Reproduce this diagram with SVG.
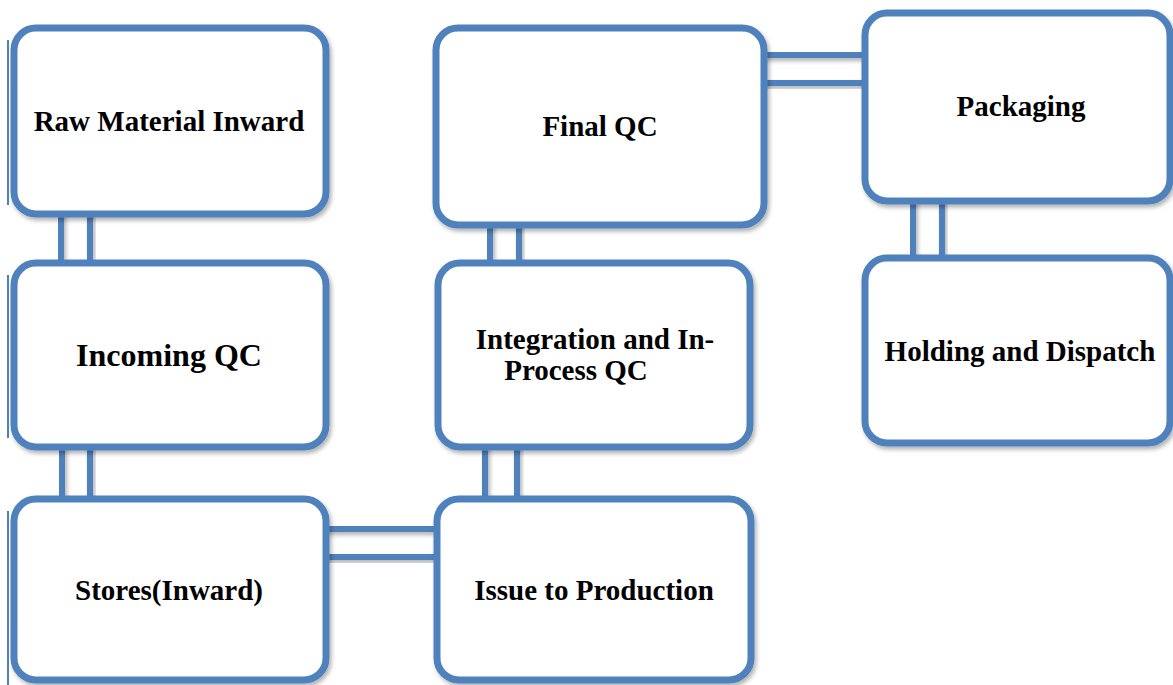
<svg xmlns="http://www.w3.org/2000/svg" width="1173" height="685" viewBox="0 0 1173 685">
  <defs>
    <filter id="shadow" x="-10%" y="-10%" width="130%" height="130%">
      <feDropShadow dx="2" dy="3" stdDeviation="2" flood-color="#000" flood-opacity="0.3"/>
    </filter>
  </defs>
  <style>
    .box { fill: #ffffff; stroke: #4F81BD; stroke-width: 7; filter: url(#shadow); }
    .pipe { fill: none; stroke: #4F81BD; stroke-width: 6; filter: url(#shadow); }
    .edge { stroke: #4F81BD; stroke-width: 2; }
    .label { font-family: "Liberation Serif", "Times New Roman", serif; font-weight: bold; font-size: 29px; fill: #000; text-anchor: middle; }
  </style>
  <rect width="1173" height="685" fill="#ffffff"/>

  <!-- connectors: double-line pipes between steps -->
  <g id="connectors">
    <rect class="pipe" x="61" y="205" width="29" height="65"/>
    <rect class="pipe" x="62" y="440" width="28" height="65"/>
    <rect class="pipe" x="320" y="529" width="125" height="28"/>
    <rect class="pipe" x="485" y="440" width="32" height="65"/>
    <rect class="pipe" x="490" y="218" width="29" height="52"/>
    <rect class="pipe" x="758" y="55" width="112" height="28"/>
    <rect class="pipe" x="913" y="195" width="29" height="64" rx="3"/>
  </g>

  <g id="raw-material-inward">
    <line class="edge" x1="8" y1="40" x2="8" y2="205"/>
    <rect class="box" x="14" y="28" width="312" height="186" rx="22"/>
    <text class="label" x="169" y="131">Raw Material Inward</text>
  </g>

  <g id="incoming-qc">
    <line class="edge" x1="8" y1="275" x2="8" y2="438"/>
    <rect class="box" x="14" y="263" width="312" height="184" rx="22"/>
    <text class="label" x="169" y="366" style="font-size:32px">Incoming QC</text>
  </g>

  <g id="stores-inward">
    <line class="edge" x1="8" y1="511" x2="8" y2="685"/>
    <rect class="box" x="14" y="499" width="312" height="181" rx="22"/>
    <text class="label" x="169" y="600">Stores(Inward)</text>
  </g>

  <g id="issue-to-production">
    <rect class="box" x="437" y="499" width="314" height="181" rx="22"/>
    <text class="label" x="594" y="600">Issue to Production</text>
  </g>

  <g id="integration-qc">
    <rect class="box" x="438" y="263" width="312" height="184" rx="22"/>
    <text class="label" x="595" y="349">Integration and In-</text>
    <text class="label" x="576" y="380">Process QC</text>
  </g>

  <g id="final-qc">
    <rect class="box" x="436" y="28" width="328" height="197" rx="22"/>
    <text class="label" x="600" y="136">Final QC</text>
  </g>

  <g id="packaging">
    <rect class="box" x="865" y="13" width="305" height="188" rx="22"/>
    <text class="label" x="1021" y="116">Packaging</text>
  </g>

  <g id="holding-dispatch">
    <rect class="box" x="865" y="258" width="305" height="185" rx="22"/>
    <text class="label" x="1020" y="361">Holding and Dispatch</text>
  </g>
</svg>
